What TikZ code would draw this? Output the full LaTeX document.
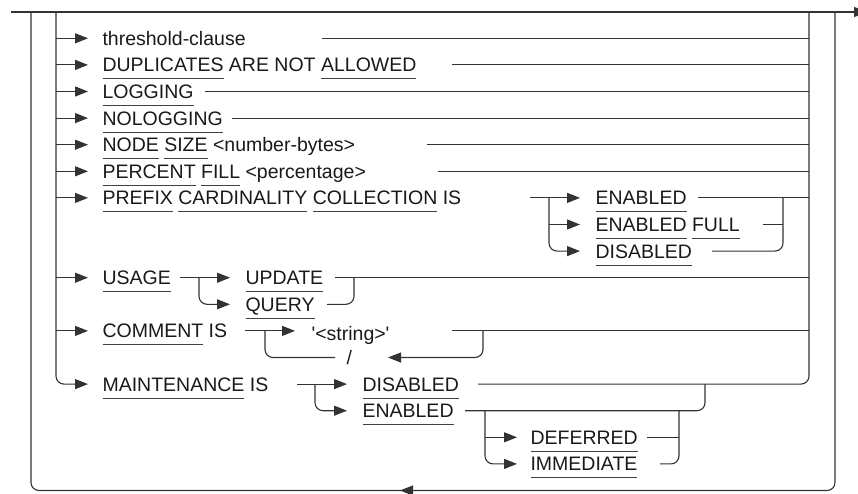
\documentclass[tikz,border=0pt]{standalone}
\usepackage{fontspec}
\setmainfont{Liberation Sans}[Ligatures=TeXOff]
\usetikzlibrary{arrows.meta,calc}
\newcommand\kw[1]{\setbox0\hbox{#1}\rlap{\color{black!75}\rule[-7.3pt]{\wd0}{0.9pt}}\box0\relax}
\begin{document}
\begin{tikzpicture}[x=1pt,y=-1pt, line width=1.1pt, draw=black!80,
  txt/.style={anchor=base west, inner sep=0pt, font=\fontsize{19.5}{22}\selectfont, text=black!90},
  arr/.style={-{Triangle[length=13pt,width=10pt]}},
  rc/.style={rounded corners=8pt}]
\useasboundingbox (0,0) rectangle (858,493);
% main line
\coordinate (start) at (11,12);
\coordinate (finish) at (867,12);
\draw[arr] (start) -- (finish);
% outer repeat loop
\coordinate (oR) at (835,12);
\coordinate (oL) at (31,12);
\draw[rc] (oR) -- (835,490.5) -- (31,490.5) -- (oL);
\coordinate (bA) at (420,490.5);
\coordinate (bB) at (400,490.5);
\draw[arr] (bA) -- (bB);
% inner choice rails
\coordinate (iL) at (56,12);
\coordinate (iR) at (809,12);
\draw[rc,arr] (iL) |- (88,384.1);
\draw[rc] (478,384.1) -| (iR);
% row arrows from left rail
\foreach \y in {38.3,64.9,91.5,118.1,144.7,171.3,197.9,277.7,330.9}
  \draw[arr] (56,\y) -- (88,\y);

% row texts
\node[txt] (t0) at (102,45.3) {threshold-clause};
\node[txt] (t1) at (102,71.9) {\kw{DUPLICATES} ARE NOT \kw{ALLOWED}};
\node[txt] (t2) at (102,98.5) {\kw{LOGGING}};
\node[txt] (t3) at (102,125.1) {\kw{NOLOGGING}};
\node[txt] (t4) at (102,151.7) {\kw{NODE} \kw{SIZE} <number-bytes>};
\node[txt] (t5) at (102,178.3) {\kw{PERCENT} \kw{FILL} <percentage>};
\node[txt] (t6) at (102,204.9) {\kw{PREFIX} \kw{CARDINALITY} \kw{COLLECTION} IS};
\node[txt] (t9) at (102,284.7) {\kw{USAGE}};
\node[txt] (t11) at (102,337.9) {\kw{COMMENT} IS};
\node[txt] (t13) at (102,391.1) {\kw{MAINTENANCE} IS};

% simple rows back to right rail
\draw (322,38.3) -- (809,38.3);
\draw (452,64.9) -- (809,64.9);
\draw (205,91.5) -- (809,91.5);
\draw (232,118.1) -- (809,118.1);
\draw (427,144.7) -- (809,144.7);
\draw (438,171.3) -- (809,171.3);

% PREFIX CARDINALITY
\draw[arr] (530,197.9) -- (580,197.9);
\draw[arr] (549,224.5) -- (580,224.5);
\draw[rc,arr] (549,197.9) |- (580,251.1);
\node[txt] (pe) at (595,204.9) {\kw{ENABLED}};
\node[txt] (pf) at (595,231.5) {\kw{ENABLED} \kw{FULL}};
\node[txt] (pd) at (595,258.1) {\kw{DISABLED}};
\draw (698,197.9) -- (809,197.9);
\draw (763,224.5) -- (783,224.5);
\draw[rc] (712,251.1) -| (783,197.9);

% USAGE
\draw[arr] (180,277.7) -- (230,277.7);
\draw[rc,arr] (199,277.7) |- (230,304.3);
\node[txt] (uu) at (245,284.7) {\kw{UPDATE}};
\node[txt] (uq) at (245,311.3) {\kw{QUERY}};
\draw (335,277.7) -- (809,277.7);
\draw[rc] (327,304.3) -| (354,277.7);

% COMMENT
\draw[arr] (245,330.9) -- (295,330.9);
\node[txt] (cs) at (311,340) {'<string>'};
\draw (452,330.9) -- (809,330.9);
\draw[rc,arr] (483,330.9) |- (388,357.5);
\node[txt] (csep) at (346,364.5) {/};
\draw[rc] (335,357.5) -| (265,330.9);

% MAINTENANCE
\draw[arr] (297,384.1) -- (347,384.1);
\draw[rc,arr] (315,384.1) |- (347,410.7);
\node[txt] (md) at (362,391.1) {\kw{DISABLED}};
\node[txt] (me) at (362,417.7) {\kw{ENABLED}};
\draw[rc] (465,410.7) -| (705,384.1);
\draw[arr] (485,437.3) -- (517,437.3);
\draw[rc,arr] (485,410.7) |- (517,463.9);
\node[txt] (mdf) at (530,444.3) {\kw{DEFERRED}};
\node[txt] (mim) at (530,470.9) {\kw{IMMEDIATE}};
\draw (647,437.3) -- (679,437.3);
\draw[rc] (660,463.9) -| (679,410.7);
\end{tikzpicture}
\end{document}
